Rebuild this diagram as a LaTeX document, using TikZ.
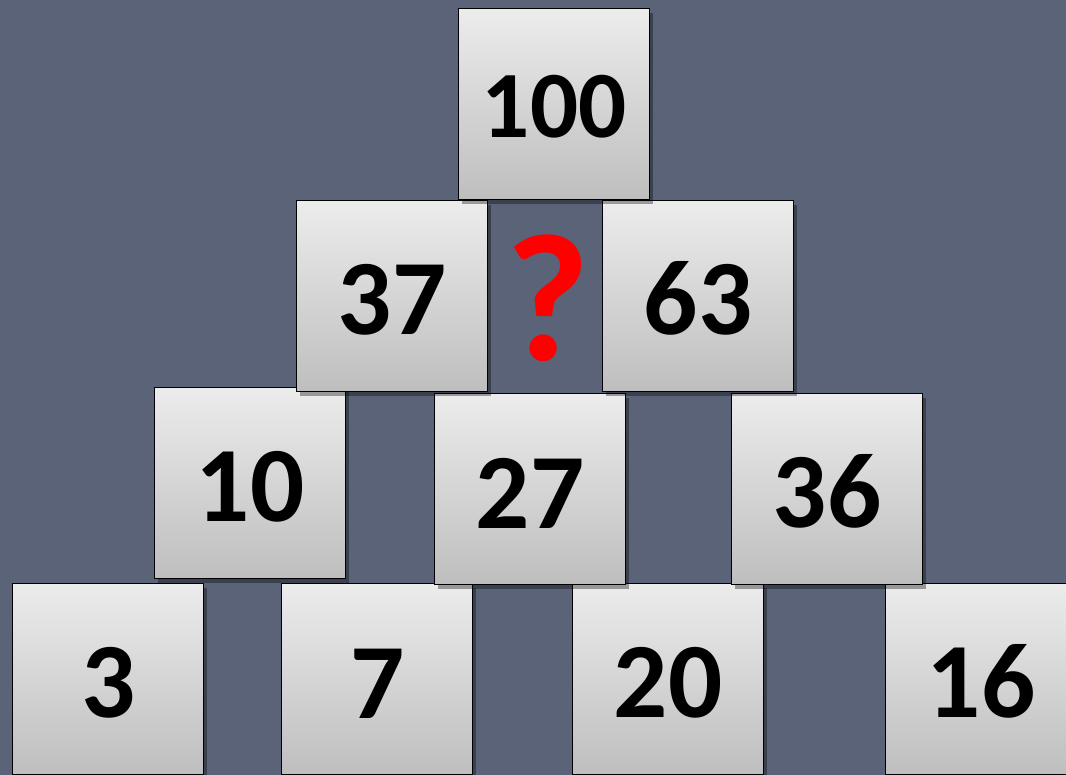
\documentclass[tikz,border=0pt]{standalone}
\usepackage{fontspec}
\setmainfont{Carlito}
\usetikzlibrary{shadows}
\definecolor{bg}{RGB}{90,99,120}
\definecolor{boxtop}{RGB}{236,236,236}
\definecolor{boxbot}{RGB}{190,190,190}
\definecolor{qred}{RGB}{255,0,0}
\tikzset{
  numbox/.style={draw=black, line width=1.4pt, minimum width=191pt, minimum height=191pt,
    anchor=north west, inner sep=0pt, top color=boxtop, bottom color=boxbot,
    drop shadow={shadow xshift=3pt, shadow yshift=-4pt, opacity=0.35, fill=black},
    font=\fontsize{107}{107}\bfseries, text height=78pt},
  topbox/.style={numbox, font=\fontsize{95}{95}\bfseries, text height=68pt},
  qmark/.style={text=qred, font=\fontsize{182}{182}\bfseries, inner sep=0pt}
}
\begin{document}
\begin{tikzpicture}[x=1pt,y=-1pt]
\fill[bg] (0,0) rectangle (1066,775);
\clip (0,0) rectangle (1066,775);
% bottom row
\node[numbox] (b1) at (12,583) {3};
\node[numbox] (b2) at (281,583) {7};
\node[numbox] (b3) at (572,583) {20};
\node[numbox] (b4) at (885,583) {16};
% third row
\node[numbox] (c1) at (154,387) {10};
\node[numbox] (c2) at (434,393) {27};
\node[numbox] (c3) at (731,393) {36};
% second row
\node[numbox] (d1) at (296,200) {37};
\node[numbox] (d2) at (602,200) {63};
% top
\node[topbox] (t) at (458,8) {100};
% question mark
\node[qmark] (q) at (548,298) {?};
\end{tikzpicture}
\end{document}
